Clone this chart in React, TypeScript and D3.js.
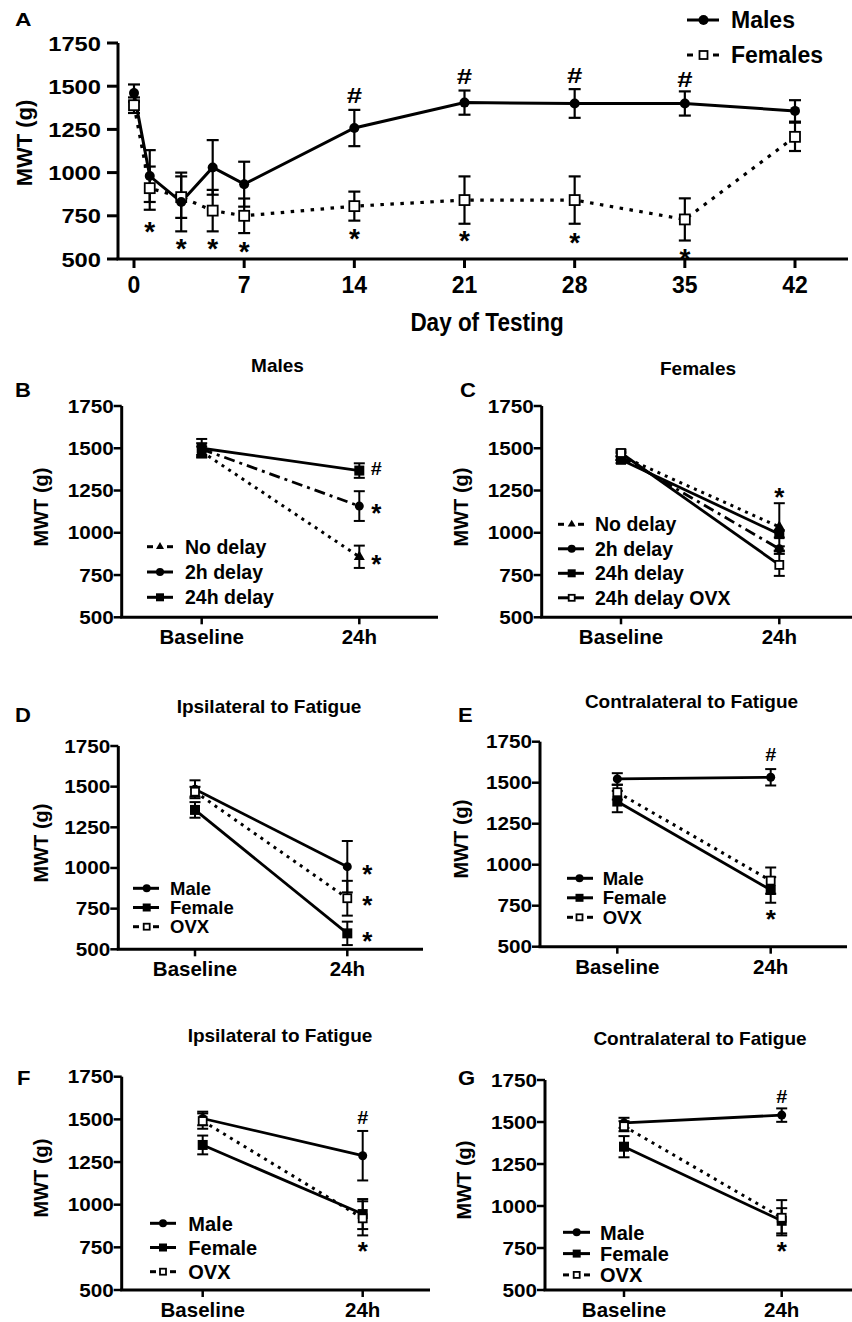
import React from "react";
import * as d3 from "d3";

const FONT = "'Liberation Sans', Arial, Helvetica, sans-serif";

// shared
const yTicks = [500, 750, 1000, 1250, 1500, 1750];
const categories = ["Baseline", "24h"];

// panel A – time course
const days = [0, 1, 3, 5, 7, 14, 21, 28, 35, 42];
const dayTicks = [0, 7, 14, 21, 28, 35, 42];
const malesMean = [1460, 980, 830, 1030, 933, 1258, 1405, 1400, 1400, 1357];
const malesSem = [50, 150, 170, 158, 130, 105, 70, 83, 70, 62];
const femalesMean = [1390, 910, 858, 780, 750, 806, 841, 841, 729, 1207];
const femalesSem = [45, 125, 120, 120, 100, 84, 137, 137, 122, 82];
const aHashDays = [14, 21, 28, 35];
const aHashAt = [1448, 1561, 1566, 1540];
const aStarDays = [1, 3, 5, 7, 14, 21, 28, 35];
const aStarAt = [697, 598, 598, 581, 656, 644, 633, 540];

// panel B – males
const bNoDelay = [1480, 858];
const bNoDelaySem = [30, 66];
const b2h = [1495, 1158];
const b2hSem = [35, 88];
const b24h = [1500, 1368];
const b24hSem = [55, 43];

// panel C – females
const cNoDelay = [1455, 1035];
const cNoDelaySem = [25, 140];
const c2h = [1450, 905];
const c2hSem = [20, 15];
const c24h = [1432, 992];
const c24hSem = [20, 20];
const cOvx = [1472, 810];
const cOvxSem = [20, 65];

// panel D – ipsilateral
const dMale = [1484, 1008];
const dMaleSem = [55, 158];
const dFemale = [1357, 598];
const dFemaleSem = [48, 72];
const dOvx = [1469, 814];
const dOvxSem = [30, 107];

// panel E – contralateral
const eMale = [1523, 1533];
const eMaleSem = [35, 50];
const eFemale = [1385, 846];
const eFemaleSem = [65, 78];
const eOvx = [1442, 903];
const eOvxSem = [45, 80];

// panel F – ipsilateral
const fMale = [1505, 1287];
const fMaleSem = [40, 145];
const fFemale = [1350, 945];
const fFemaleSem = [55, 88];
const fOvx = [1490, 920];
const fOvxSem = [45, 100];

// panel G – contralateral
const gMale = [1495, 1541];
const gMaleSem = [30, 40];
const gFemale = [1353, 912];
const gFemaleSem = [63, 75];
const gOvx = [1475, 930];
const gOvxSem = [30, 105];

type Series = { name: string; mean: number[]; sem: number[]; marker: string; line: string };
type Annot = { sym: string; at: number; side: string };

const dash: Record<string, string | undefined> = {
  solid: undefined,
  dot: "3 5",
  dashdot: "11 5 3 5",
};

const T = ({ x, y, fs, sx = 1, anchor = "start", children }: any) => (
  <text
    transform={`translate(${x},${y}) scale(${sx},1)`}
    fontSize={fs}
    textAnchor={anchor}
    fontFamily={FONT}
    fontWeight="bold"
    fill="#000"
  >
    {children}
  </text>
);

const YLabel = ({ x, y, fs }: any) => (
  <text
    transform={`translate(${x},${y}) rotate(-90)`}
    y={fs * 0.36}
    fontSize={fs}
    textAnchor="middle"
    fontFamily={FONT}
    fontWeight="bold"
  >
    MWT (g)
  </text>
);

function Marker({ shape, x, y, s }: any) {
  if (shape === "circle") return <circle cx={x} cy={y} r={s / 2} fill="#000" />;
  if (shape === "square")
    return <rect x={x - s / 2} y={y - s / 2} width={s} height={s} fill="#000" />;
  if (shape === "triangle") {
    const h = s * 0.87;
    return (
      <path
        d={`M${x},${y - (h * 2) / 3}L${x - s / 2},${y + h / 3}L${x + s / 2},${y + h / 3}Z`}
        fill="#000"
      />
    );
  }
  return (
    <rect
      x={x - s / 2 + 1}
      y={y - s / 2 + 1}
      width={s - 2}
      height={s - 2}
      fill="#fff"
      stroke="#000"
      strokeWidth={1.8}
    />
  );
}

function Sym({ sym, cx, cy, big }: any) {
  if (sym === "#") {
    const fs = big ? 22 : 18;
    return (
      <T x={cx} y={cy + fs * 0.36} fs={fs} sx={big ? 1.25 : 1.1} anchor="middle">
        #
      </T>
    );
  }
  const fs = big ? 28 : 26;
  return (
    <T x={cx} y={cy + fs * 0.56} fs={fs} anchor="middle">
      *
    </T>
  );
}

function LegendItem({ s, y, lg, big }: any) {
  const dashed = s.line === "dot";
  const sw = 3;
  const ms = big ? 10 : 8;
  return (
    <g>
      {dashed ? (
        <g stroke="#000" strokeWidth={sw}>
          <line x1={lg.x1} x2={lg.x1 + 6} y1={y} y2={y} />
          <line x1={lg.x2 - 6} x2={lg.x2} y1={y} y2={y} />
        </g>
      ) : (
        <line x1={lg.x1} x2={lg.x2} y1={y} y2={y} stroke="#000" strokeWidth={sw} />
      )}
      <Marker shape={s.marker} x={lg.mx} y={y} s={ms} />
      <T x={lg.tx} y={y + lg.fs * 0.36} fs={lg.fs}>
        {s.name}
      </T>
    </g>
  );
}

function PanelA() {
  const axisX = 118;
  const yTop = 43;
  const yBot = 259;
  const xRight = 848;
  const x = d3.scaleLinear().domain([0, 42]).range([134, 795]);
  const y = d3.scaleLinear().domain([500, 1750]).range([yBot, yTop]);
  const line = d3
    .line<number>()
    .x((_, i) => x(days[i]))
    .y((d) => y(d));
  const series = [
    { name: "Females", mean: femalesMean, sem: femalesSem, marker: "open", line: "dot" },
    { name: "Males", mean: malesMean, sem: malesSem, marker: "circle", line: "solid" },
  ];
  return (
    <g>
      <T x={15} y={26} fs={19} sx={1.2}>
        A
      </T>
      <YLabel x={24} y={143} fs={22} />
      <line x1={axisX} x2={axisX} y1={yTop} y2={yBot} stroke="#000" strokeWidth={3} />
      <line x1={axisX - 1.5} x2={xRight} y1={yBot} y2={yBot} stroke="#000" strokeWidth={3} />
      {yTicks.map((t) => (
        <g key={t}>
          <line x1={axisX - 11} x2={axisX} y1={y(t)} y2={y(t)} stroke="#000" strokeWidth={3} />
          <T x={101} y={y(t) + 7.5} fs={21} sx={1.13} anchor="end">
            {t}
          </T>
        </g>
      ))}
      {dayTicks.map((d) => (
        <g key={d}>
          <line x1={x(d)} x2={x(d)} y1={yBot} y2={yBot + 9} stroke="#000" strokeWidth={3} />
          <T x={x(d)} y={293} fs={23} anchor="middle">
            {d}
          </T>
        </g>
      ))}
      <T x={487} y={331} fs={25} sx={0.9} anchor="middle">
        Day of Testing
      </T>
      <path
        d={line(femalesMean) || ""}
        fill="none"
        stroke="#000"
        strokeWidth={3.2}
        strokeDasharray="3.5 6.5"
      />
      <path d={line(malesMean) || ""} fill="none" stroke="#000" strokeWidth={3} />
      {series.map((s) =>
        s.mean.map((m, i) => {
          const cx = x(days[i]);
          const hi = y(m + s.sem[i]);
          const lo = y(m - s.sem[i]);
          return (
            <g key={s.name + i} stroke="#000" strokeWidth={2.2}>
              <line x1={cx} x2={cx} y1={hi} y2={lo} />
              <line x1={cx - 6} x2={cx + 6} y1={hi} y2={hi} />
              <line x1={cx - 6} x2={cx + 6} y1={lo} y2={lo} />
            </g>
          );
        })
      )}
      {series.map((s) =>
        s.mean.map((m, i) => (
          <Marker
            key={s.name + "m" + i}
            shape={s.marker}
            x={x(days[i])}
            y={y(m)}
            s={s.marker === "circle" ? 10 : 12}
          />
        ))
      )}
      {aHashDays.map((d, i) => (
        <Sym key={"h" + d} sym="#" cx={x(d)} cy={y(aHashAt[i])} big />
      ))}
      {aStarDays.map((d, i) => (
        <Sym key={"s" + d} sym="*" cx={x(d)} cy={y(aStarAt[i])} big />
      ))}
      {/* legend */}
      {[series[1], series[0]].map((s, i) => {
        const ly = i === 0 ? 20 : 55;
        return (
          <LegendItem
            key={s.name}
            s={s}
            y={ly}
            big
            lg={{ x1: 687, x2: 719, mx: 703.5, tx: 731, fs: 23 }}
          />
        );
      })}
    </g>
  );
}

function SmallPanel({ p }: any) {
  const y = d3.scaleLinear().domain([500, 1750]).range([p.yBot, p.yTop]);
  const x = d3.scalePoint<string>().domain(categories).range(p.catX);
  const line = d3
    .line<number>()
    .x((_, i) => x(categories[i]) as number)
    .y((d) => y(d));
  const series: Series[] = p.series;
  const last = x(categories[1]) as number;
  return (
    <g>
      <T x={p.letterX} y={p.letterY} fs={20} sx={1.1}>
        {p.letter}
      </T>
      <T x={p.titleX} y={p.titleY} fs={19} anchor="middle">
        {p.title}
      </T>
      <YLabel x={p.ylabelX} y={p.ylabelY} fs={20} />
      <line x1={p.axisX} x2={p.axisX} y1={p.yTop} y2={p.yBot} stroke="#000" strokeWidth={3} />
      <line x1={p.axisX - 1.5} x2={p.xRight} y1={p.yBot} y2={p.yBot} stroke="#000" strokeWidth={3} />
      {yTicks.map((t) => (
        <g key={t}>
          <line x1={p.axisX - 8} x2={p.axisX} y1={y(t)} y2={y(t)} stroke="#000" strokeWidth={2.5} />
          <T x={p.axisX - 8} y={y(t) + 6.5} fs={18} sx={1.15} anchor="end">
            {t}
          </T>
        </g>
      ))}
      {categories.map((c) => (
        <g key={c}>
          <line
            x1={x(c)}
            x2={x(c)}
            y1={p.yBot}
            y2={p.yBot + 7}
            stroke="#000"
            strokeWidth={2.5}
          />
          <T x={x(c)} y={p.yBot + 27} fs={20.5} anchor="middle">
            {c}
          </T>
        </g>
      ))}
      {series.map((s) => (
        <path
          key={s.name + "l"}
          d={line(s.mean) || ""}
          fill="none"
          stroke="#000"
          strokeWidth={s.line === "dot" ? 3 : 2.8}
          strokeDasharray={dash[s.line]}
        />
      ))}
      {series.map((s) =>
        s.mean.map((m, i) => {
          const cx = x(categories[i]) as number;
          const hi = y(m + s.sem[i]);
          const lo = y(m - s.sem[i]);
          return (
            <g key={s.name + "e" + i} stroke="#000" strokeWidth={2}>
              <line x1={cx} x2={cx} y1={hi} y2={lo} />
              <line x1={cx - 5.5} x2={cx + 5.5} y1={hi} y2={hi} />
              <line x1={cx - 5.5} x2={cx + 5.5} y1={lo} y2={lo} />
            </g>
          );
        })
      )}
      {series.map((s) =>
        s.mean.map((m, i) => (
          <Marker
            key={s.name + "m" + i}
            shape={s.marker}
            x={x(categories[i])}
            y={y(m)}
            s={s.marker === "circle" ? 9 : s.marker === "triangle" ? 11 : 10}
          />
        ))
      )}
      {(p.annots as Annot[]).map((a, i) => (
        <Sym
          key={"a" + i}
          sym={a.sym}
          cx={a.side === "right" ? last + p.annotDx : last}
          cy={y(a.at)}
        />
      ))}
      {series.map((s, i) => (
        <LegendItem key={s.name + "lg"} s={s} y={p.legend.y0 + i * p.legend.gap} lg={p.legend} />
      ))}
    </g>
  );
}

const maleFemaleOvx = (m: number[], ms: number[], f: number[], fs: number[], o: number[], os: number[]): Series[] => [
  { name: "Male", mean: m, sem: ms, marker: "circle", line: "solid" },
  { name: "Female", mean: f, sem: fs, marker: "square", line: "solid" },
  { name: "OVX", mean: o, sem: os, marker: "open", line: "dot" },
];

const panels = [
  {
    letter: "B", letterX: 15, letterY: 397, title: "Males", titleX: 277.5, titleY: 372,
    axisX: 121.7, yTop: 406, yBot: 617.3, xRight: 438, catX: [201.7, 359.3],
    ylabelX: 41, ylabelY: 507, annotDx: 17,
    legend: { y0: 546.7, gap: 25.3, x1: 147, x2: 173, mx: 160, tx: 185, fs: 19.5 },
    series: [
      { name: "No delay", mean: bNoDelay, sem: bNoDelaySem, marker: "triangle", line: "dot" },
      { name: "2h delay", mean: b2h, sem: b2hSem, marker: "circle", line: "dashdot" },
      { name: "24h delay", mean: b24h, sem: b24hSem, marker: "square", line: "solid" },
    ],
    annots: [
      { sym: "#", at: 1380, side: "right" },
      { sym: "*", at: 1150, side: "right" },
      { sym: "*", at: 850, side: "right" },
    ],
  },
  {
    letter: "C", letterX: 460, letterY: 397, title: "Females", titleX: 698, titleY: 375,
    axisX: 541.7, yTop: 406, yBot: 617.3, xRight: 852, catX: [621, 779.3],
    ylabelX: 461, ylabelY: 507, annotDx: 0,
    legend: { y0: 524.3, gap: 24.5, x1: 558, x2: 584, mx: 571.7, tx: 595, fs: 19.5 },
    series: [
      { name: "No delay", mean: cNoDelay, sem: cNoDelaySem, marker: "triangle", line: "dot" },
      { name: "2h delay", mean: c2h, sem: c2hSem, marker: "circle", line: "dashdot" },
      { name: "24h delay", mean: c24h, sem: c24hSem, marker: "square", line: "solid" },
      { name: "24h delay OVX", mean: cOvx, sem: cOvxSem, marker: "open", line: "solid" },
    ],
    annots: [{ sym: "*", at: 1243, side: "center" }],
  },
  {
    letter: "D", letterX: 15, letterY: 722, title: "Ipsilateral to Fatigue", titleX: 269, titleY: 713,
    axisX: 118.3, yTop: 746, yBot: 949.3, xRight: 423, catX: [195, 347.3],
    ylabelX: 41, ylabelY: 843, annotDx: 20,
    legend: { y0: 888.3, gap: 19.2, x1: 133, x2: 159, mx: 146.7, tx: 170, fs: 18.5 },
    series: maleFemaleOvx(dMale, dMaleSem, dFemale, dFemaleSem, dOvx, dOvxSem),
    annots: [
      { sym: "*", at: 1000, side: "right" },
      { sym: "*", at: 809, side: "right" },
      { sym: "*", at: 588, side: "right" },
    ],
  },
  {
    letter: "E", letterX: 458, letterY: 722, title: "Contralateral to Fatigue", titleX: 691.5, titleY: 708,
    axisX: 540, yTop: 741.7, yBot: 946.7, xRight: 847, catX: [617.3, 770.7],
    ylabelX: 461, ylabelY: 839, annotDx: 0,
    legend: { y0: 878.3, gap: 19.5, x1: 567, x2: 593, mx: 579.5, tx: 602.7, fs: 18.5 },
    series: maleFemaleOvx(eMale, eMaleSem, eFemale, eFemaleSem, eOvx, eOvxSem),
    annots: [
      { sym: "#", at: 1669, side: "center" },
      { sym: "*", at: 704, side: "center" },
    ],
  },
  {
    letter: "F", letterX: 17, letterY: 1085, title: "Ipsilateral to Fatigue", titleX: 280, titleY: 1042,
    axisX: 121.7, yTop: 1076.7, yBot: 1290, xRight: 430, catX: [202.7, 362.7],
    ylabelX: 41, ylabelY: 1178, annotDx: 0,
    legend: { y0: 1223.3, gap: 24.2, x1: 150, x2: 176, mx: 163, tx: 188.3, fs: 20 },
    series: maleFemaleOvx(fMale, fMaleSem, fFemale, fFemaleSem, fOvx, fOvxSem),
    annots: [
      { sym: "#", at: 1508, side: "center" },
      { sym: "*", at: 764, side: "center" },
    ],
  },
  {
    letter: "G", letterX: 458, letterY: 1085, title: "Contralateral to Fatigue", titleX: 700, titleY: 1045,
    axisX: 545, yTop: 1080, yBot: 1290, xRight: 852, catX: [624, 781.7],
    ylabelX: 464, ylabelY: 1180, annotDx: 0,
    legend: { y0: 1232.3, gap: 21.3, x1: 563, x2: 590, mx: 576.7, tx: 600, fs: 20 },
    series: maleFemaleOvx(gMale, gMaleSem, gFemale, gFemaleSem, gOvx, gOvxSem),
    annots: [
      { sym: "#", at: 1654, side: "center" },
      { sym: "*", at: 768, side: "center" },
    ],
  },
];

export default function App() {
  return (
    <svg
      width={852}
      height={1322}
      viewBox="0 0 852 1322"
      style={{ position: "absolute", left: 0, top: 0, background: "#fff" }}
    >
      <rect width={852} height={1322} fill="#fff" />
      <PanelA />
      {panels.map((p) => (
        <SmallPanel key={p.letter} p={p} />
      ))}
    </svg>
  );
}
